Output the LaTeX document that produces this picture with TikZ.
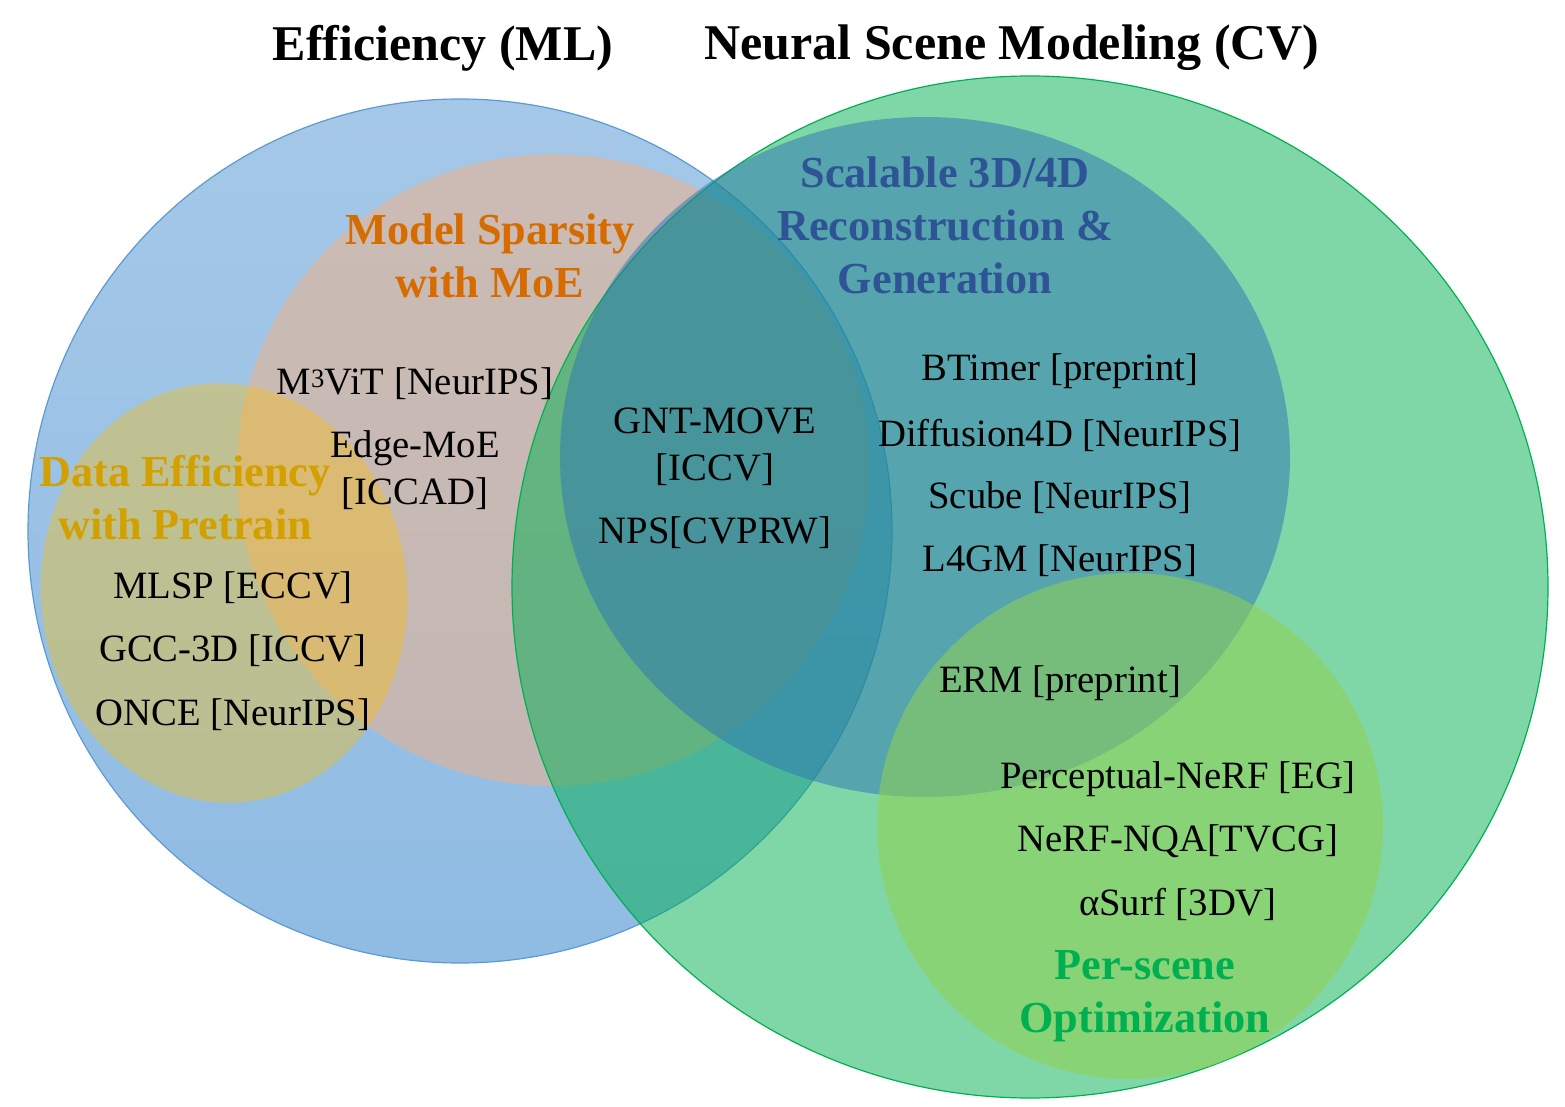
\documentclass[tikz,border=0pt]{standalone}
\usepackage{fontspec}
\setmainfont{Liberation Serif}
\usetikzlibrary{positioning}
\definecolor{effblue}{HTML}{5B9BD5}
\definecolor{scenegreen}{HTML}{00B050}
\definecolor{moepeach}{HTML}{F4B183}
\definecolor{datagold}{HTML}{FFC000}
\definecolor{reconteal}{HTML}{2E75B6}
\definecolor{optlime}{HTML}{92D050}
\definecolor{moetext}{RGB}{214,108,0}
\definecolor{datatext}{RGB}{210,160,0}
\definecolor{recontext}{RGB}{47,84,150}
\tikzset{
  title/.style={font=\fontsize{25}{30}\selectfont\bfseries,inner sep=0pt},
  topic/.style={font=\fontsize{22.15}{26.5}\selectfont\bfseries,align=center,inner sep=0pt},
  paper/.style={font=\fontsize{19.35}{23.5}\selectfont,align=center,inner sep=0pt},
  blob/.style={fill=#1,fill opacity=0.5}
}

\begin{document}
\begin{tikzpicture}[x=0.5pt,y=-0.5pt]
  \useasboundingbox (0,0) rectangle (1565,1107);

  % the two fields
  \path[top color=effblue!55!white,bottom color=effblue!68!white,draw=effblue,line width=0.6pt]
    (460,531) circle[radius=432];
  \path[blob=moepeach] (553,470) circle[radius=316];
  \path[blob=datagold,fill opacity=0.36,rotate around={5.5:(224,593)}]
    (224,593) ellipse[x radius=183,y radius=210];
  \path[blob=scenegreen,draw=scenegreen,draw opacity=1,line width=0.6pt]
    (1030,587) ellipse[x radius=518,y radius=511];
  \path[blob=reconteal] (925,457) ellipse[x radius=365,y radius=340];
  \path[blob=optlime,fill opacity=0.55] (1130,826) circle[radius=253];

  % headings
  \node[title] (effTitle) at (443,48) {Efficiency (ML)};
  \node[title] (sceneTitle) at (1012,48) {Neural Scene Modeling (CV)};

  \node[topic,text=moetext] (moe) at (490,256) {Model Sparsity\\with MoE};
  \node[topic,text=datatext] (data) at (185,498) {Data Efficiency\\with Pretrain};
  \node[topic,text=recontext] (recon) at (945,225) {Scalable 3D/4D\\Reconstruction \&\\Generation};
  \node[topic,text=scenegreen] (perScene) at (1145,996) {Per-scene\\Optimization};

  % papers
  \node[paper] (mvit) at (415,384) {M\raisebox{3.8pt}{\fontsize{13.3}{13.3}\selectfont 3}ViT [NeurIPS]};
  \node[paper] (edgeMoe) at (415,470) {Edge-MoE\\{[ICCAD]}};

  \node[paper] (mlsp) at (233,588) {MLSP [ECCV]};
  \node[paper] (gcc) at (233,651) {GCC-3D [ICCV]};
  \node[paper] (once) at (233,715) {ONCE [NeurIPS]};

  \node[paper] (gntMove) at (715,447) {GNT-MOVE\\{[ICCV]}};
  \node[paper] (nps) at (715,533) {NPS[CVPRW]};

  \node[paper] (btimer) at (1060,371) {BTimer [preprint]};
  \node[paper] (diff4d) at (1060,435) {Diffusion4D [NeurIPS]};
  \node[paper] (scube) at (1060,498) {Scube [NeurIPS]};
  \node[paper] (l4gm) at (1060,561) {L4GM [NeurIPS]};
  \node[paper] (erm) at (1060,683) {ERM [preprint]};

  \node[paper] (percNerf) at (1178,779) {Perceptual-NeRF [EG]};
  \node[paper] (nerfNqa) at (1178,841) {NeRF-NQA[TVCG]};
  \node[paper] (asurf) at (1178,904) {αSurf [3DV]};

\end{tikzpicture}
\end{document}
